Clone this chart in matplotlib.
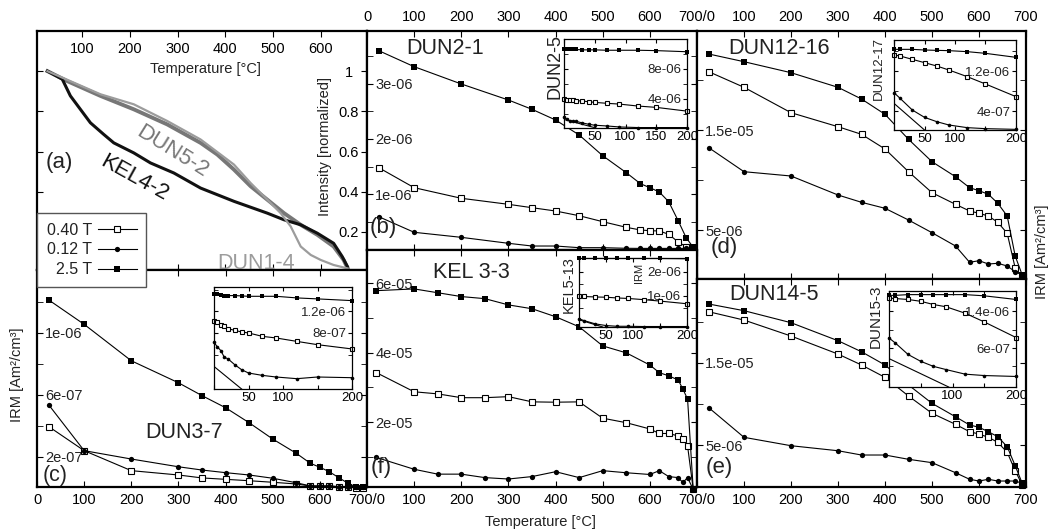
import matplotlib
matplotlib.use('Agg')
import matplotlib.pyplot as plt
from matplotlib.lines import Line2D
from matplotlib.ticker import FixedLocator, FixedFormatter, FuncFormatter

plt.rcParams['font.family'] = ['Liberation Sans', 'DejaVu Sans']
plt.rcParams['text.color'] = '#222222'

# ---- panel (a): normalized thermomagnetic curves
a_kel_T = [27, 58, 75, 96, 117, 145, 166, 208, 243, 292, 348, 418, 488, 523, 558, 593, 627, 645, 656]
a_kel = [1.0, 0.96, 0.877, 0.81, 0.743, 0.685, 0.643, 0.593, 0.543, 0.493, 0.418, 0.352,
         0.293, 0.26, 0.235, 0.193, 0.143, 0.077, 0.027]
a_dun5_T = [27, 69, 138, 208, 278, 348, 383, 418, 453, 488, 523, 558, 593, 627, 648, 656]
a_dun5 = [1.0, 0.95, 0.877, 0.81, 0.735, 0.643, 0.585, 0.51, 0.427, 0.36, 0.293, 0.235,
          0.185, 0.127, 0.06, 0.02]
a_dun1_T = [27, 138, 208, 278, 348, 418, 453, 488, 516, 537, 558, 579, 600, 627, 656]
a_dun1 = [1.0, 0.885, 0.835, 0.752, 0.66, 0.535, 0.443, 0.36, 0.293, 0.227, 0.127, 0.085,
          0.06, 0.035, 0.018]

# ---- thermal demag of 3-axis IRM (2.5 T, 0.40 T, 0.12 T)
T16 = [25, 100, 200, 300, 350, 400, 450, 500, 550, 580, 600, 620, 640, 660, 677, 692]
T18 = [20, 100, 150, 200, 250, 300, 350, 400, 450, 500, 550, 600, 620, 640, 660, 670, 680, 692]

b_25 = [3.595, 3.306, 2.993, 2.703, 2.535, 2.342, 2.071, 1.696, 1.389, 1.19, 1.118, 1.04, 0.864, 0.521, 0.213, 0.04]
b_040 = [1.479, 1.118, 0.926, 0.817, 0.756, 0.696, 0.611, 0.503, 0.401, 0.353, 0.34, 0.335, 0.275, 0.136, 0.05, 0.03]
b_012 = [0.593, 0.311, 0.22, 0.112, 0.063, 0.063, 0.033, 0.033, 0.022, 0.02, 0.02, 0.02, 0.02, 0.02, 0.02, 0.02]

d_25 = [22.6, 21.83, 20.73, 19.27, 18.1, 16.57, 14.07, 11.83, 10.33, 9.23, 8.93, 8.57, 7.67, 6.4, 2.4, 0.5]
d_040 = [20.83, 19.27, 16.73, 15.33, 14.57, 13.1, 10.83, 8.73, 7.57, 6.9, 6.67, 6.4, 5.77, 4.67, 1.2, 0.3]
d_012 = [13.23, 10.83, 10.4, 8.5, 7.77, 7.17, 6.0, 4.73, 3.4, 1.77, 1.93, 1.6, 1.67, 1.4, 0.83, 0.5]

c_25 = [12.11, 10.54, 8.19, 6.77, 5.94, 5.16, 4.19, 3.14, 2.22, 1.57, 1.32, 1.03, 0.65, 0.28, 0.05, 0.02]
c_040 = [3.94, 2.39, 1.1, 0.82, 0.63, 0.54, 0.45, 0.35, 0.24, 0.11, 0.11, 0.11, 0.06, 0.03, 0.0, 0.0]
c_012 = [5.34, 2.39, 1.85, 1.35, 1.14, 0.97, 0.82, 0.61, 0.32, 0.11, 0.11, 0.11, 0.06, 0.06, 0.04, 0.04]

f_25 = [5.78, 5.83, 5.72, 5.61, 5.55, 5.37, 5.26, 5.03, 4.74, 4.19, 3.99, 3.64, 3.42, 3.33, 3.21, 2.95, 2.66, 0.06]
f_040 = [3.42, 2.87, 2.81, 2.70, 2.70, 2.73, 2.58, 2.57, 2.58, 2.11, 1.98, 1.80, 1.67, 1.67, 1.60, 1.50, 1.31, 0.06]
f_012 = [0.98, 0.64, 0.50, 0.50, 0.40, 0.36, 0.43, 0.57, 0.40, 0.60, 0.54, 0.49, 0.60, 0.43, 0.40, 0.26, 0.40, 0.06]

e_25 = [22.14, 21.33, 19.87, 17.68, 16.34, 14.73, 12.30, 10.07, 8.44, 7.44, 7.16, 6.62, 6.01, 4.80, 2.49, 0.35]
e_040 = [21.2, 20.19, 18.25, 16.06, 14.73, 13.23, 10.96, 8.86, 7.52, 6.62, 6.34, 5.94, 5.33, 4.12, 1.88, 0.15]
e_012 = [9.54, 5.94, 4.92, 4.31, 3.79, 3.79, 3.27, 2.86, 1.64, 0.84, 0.63, 0.84, 0.63, 0.63, 0.63, 0.35]

# ---- insets (AF steps, mT)
AF13 = [0, 5, 10, 15, 20, 30, 40, 50, 70, 90, 120, 150, 200]
AF9 = [0, 10, 30, 50, 70, 90, 120, 150, 200]

bi_25 = [10.6, 10.6, 10.6, 10.6, 10.6, 10.55, 10.55, 10.55, 10.5, 10.5, 10.5, 10.45, 10.3]
bi_040 = [3.96, 3.86, 3.86, 3.86, 3.77, 3.73, 3.63, 3.55, 3.42, 3.32, 3.06, 2.88, 2.38]
bi_012 = [1.62, 1.27, 1.08, 1.04, 1.0, 0.81, 0.63, 0.50, 0.40, 0.27, 0.19, 0.19, 0.19]
bi_edge = ([0, 52], [1.27, 0.13])

di_25 = [1.633, 1.633, 1.633, 1.62, 1.613, 1.607, 1.587, 1.553, 1.473]
di_040 = [1.52, 1.5, 1.433, 1.367, 1.3, 1.22, 1.087, 0.94, 0.687]
di_012 = [0.767, 0.653, 0.42, 0.273, 0.187, 0.12, 0.067, 0.047, 0.033]
di_edge = ([0, 50], [0.553, 0.02])

ci_25 = [1.528, 1.522, 1.496, 1.491, 1.491, 1.491, 1.485, 1.478, 1.478, 1.478, 1.448, 1.43, 1.398]
ci_040 = [1.028, 1.004, 0.941, 0.922, 0.880, 0.848, 0.818, 0.8, 0.737, 0.707, 0.644, 0.583, 0.504]
ci_012 = [0.626, 0.541, 0.472, 0.348, 0.324, 0.213, 0.12, 0.059, 0.015, -0.015, -0.046, -0.015, -0.028]
ci_edge = ([0, 40], [0.18, -0.237])

fi_25 = [2.54, 2.54, 2.54, 2.54, 2.54, 2.54, 2.54, 2.54, 2.53]
fi_040 = [0.97, 0.97, 0.95, 0.94, 0.91, 0.89, 0.84, 0.78, 0.67]
fi_012 = [0.05, -0.03, -0.16, -0.23, -0.26, -0.26, -0.27, -0.27, -0.27]
fi_edge = ([0, 44], [0.01, -0.29])

ei_25 = [1.75, 1.75, 1.766, 1.766, 1.766, 1.766, 1.766, 1.74, 1.66]
ei_040 = [1.69, 1.68, 1.66, 1.62, 1.55, 1.50, 1.36, 1.17, 0.83]
ei_012 = [0.82, 0.71, 0.46, 0.31, 0.20, 0.13, 0.03, 0.00, -0.02]
ei_edge = ([0, 94], [0.37, -0.25])

T_TICKS = [0, 100, 200, 300, 400, 500, 600, 700]
field_labels = ['0.40 T', '0.12 T', '2.5 T']

W, H = 1054, 531
fig = plt.figure(figsize=(W / 100, H / 100), dpi=100)


def px_box(x0, y0, x1, y1):
    return [x0 / W, 1 - y1 / H, (x1 - x0) / W, (y1 - y0) / H]


def ftext(ax, x, y, s, **kw):
    ax.text(x / W, 1 - y / H, s, transform=fig.transFigure, **kw)


def scale(vals, k):
    return [v * k for v in vals]


def draw_irm(ax, x, y25, y040, y012, big=True):
    lw = 0.8
    s, o, c = (3.8, 4.4, 3.8) if big else (2.6, 3.0, 2.6)
    ax.plot(x, y040, '-s', color='k', lw=lw, ms=o, mfc='white', mec='k', mew=0.8, clip_on=False)
    ax.plot(x, y012, '-o', color='k', lw=lw, ms=c, mew=0, clip_on=False)
    ax.plot(x, y25, '-s', color='k', lw=lw, ms=s, mew=0, clip_on=False)


def style_main(ax, top, xlabs, ylim, ymaj, ymin):
    ax.set_xlim(0, 700)
    ax.set_ylim(*ylim)
    ax.xaxis.set_major_locator(FixedLocator(T_TICKS))
    ax.xaxis.set_major_formatter(FixedFormatter(xlabs))
    ax.tick_params(axis='x', direction='in', length=4, top=True, bottom=True,
                   labeltop=top, labelbottom=not top, labelsize=10.5, pad=5 if top else 4)
    ax.yaxis.set_major_locator(FixedLocator(ymaj))
    ax.yaxis.set_minor_locator(FixedLocator(ymin))
    ax.yaxis.set_major_formatter(FuncFormatter(lambda v, p: '%g' % v))
    ax.tick_params(axis='y', which='both', direction='in', length=4, left=True, right=True,
                   labelsize=10.5, labelcolor='#222222', pad=-6)
    for t in ax.get_yticklabels():
        t.set_ha('left')
    for sp in ax.spines.values():
        sp.set_linewidth(1.6)


def make_inset(box, ylim, ymaj, ymin, xlabs):
    ax = fig.add_axes(px_box(*box))
    ax.set_xlim(0, 200)
    ax.set_ylim(*ylim)
    ax.xaxis.set_major_locator(FixedLocator([0, 50, 100, 150, 200]))
    ax.xaxis.set_major_formatter(FixedFormatter(xlabs))
    ax.tick_params(axis='x', direction='in', length=3, top=True, labelsize=9.5, pad=2)
    ax.yaxis.set_major_locator(FixedLocator(ymaj))
    ax.yaxis.set_minor_locator(FixedLocator(ymin))
    ax.yaxis.set_major_formatter(FuncFormatter(lambda v, p: '%g' % v))
    ax.tick_params(axis='y', which='both', direction='in', length=3, left=True, right=True,
                   labelleft=False, labelright=True, labelsize=9.5, labelcolor='#222222', pad=-4)
    for t in ax.get_yticklabels():
        t.set_ha('right')
    for sp in ax.spines.values():
        sp.set_linewidth(0.9)
    return ax


# ---- main panels
ax_a = fig.add_axes(px_box(37, 31, 367, 270))
ax_b = fig.add_axes(px_box(367, 31, 697, 250))
ax_d = fig.add_axes(px_box(697, 31, 1026, 279))
ax_c = fig.add_axes(px_box(37, 270, 367, 487))
ax_f = fig.add_axes(px_box(367, 250, 697, 487))
ax_e = fig.add_axes(px_box(697, 279, 1026, 487))

# (a)
ax_a.plot(a_dun5_T, a_dun5, color='#777777', lw=2.8)
ax_a.plot(a_kel_T, a_kel, color='#111111', lw=2.2)
ax_a.plot(a_dun1_T, a_dun1, color='#9c9c9c', lw=1.6)
ax_a.set_xlim(5, 697)
ax_a.set_ylim(0.01, 1.2)
ax_a.set_xticks([100, 200, 300, 400, 500, 600])
ax_a.set_yticks([0.2, 0.4, 0.6, 0.8, 1.0])
ax_a.yaxis.set_major_formatter(FuncFormatter(lambda v, p: '%g' % v))
ax_a.tick_params(axis='x', direction='in', length=4, top=True, bottom=True,
                 labeltop=True, labelbottom=False, labelsize=10.5, pad=-13)
ax_a.tick_params(axis='y', direction='in', length=4, left=True, right=True,
                 labelleft=False, labelright=True, labelsize=10.5, pad=-13)
for t in ax_a.get_xticklabels():
    t.set_va('center')
for t in ax_a.get_yticklabels():
    t.set_ha('center')
for sp in ax_a.spines.values():
    sp.set_linewidth(1.6)
ftext(ax_a, 205, 69, 'Temperature [°C]', ha='center', va='center', fontsize=10.5)
ftext(ax_a, 325, 147, 'Intensity [normalized]', ha='center', va='center', rotation=90, fontsize=10.5)
ftext(ax_a, 172, 152, 'DUN5-2', ha='center', va='center', rotation=-32, fontsize=16, color='#777777')
ftext(ax_a, 134, 178, 'KEL4-2', ha='center', va='center', rotation=-29, fontsize=16, color='#111111')
ftext(ax_a, 256, 263, 'DUN1-4', ha='center', va='center', fontsize=15.5, color='#9c9c9c')
ftext(ax_a, 46, 162, '(a)', ha='left', va='center', fontsize=16)

# (b)
draw_irm(ax_b, T16, scale(b_25, 1e-6), scale(b_040, 1e-6), scale(b_012, 1e-6))
style_main(ax_b, True, ['0', '100', '200', '300', '400', '500', '600', '700/0'],
           (-0.009e-6, 3.951e-6), [1e-6, 2e-6, 3e-6], [0.5e-6, 1.5e-6, 2.5e-6, 3.5e-6])
ftext(ax_b, 406, 48, 'DUN2-1', ha='left', va='center', fontsize=15.5)
ftext(ax_b, 370, 227, '(b)', ha='left', va='center', fontsize=16)

# (d)
draw_irm(ax_d, T16, scale(d_25, 1e-6), scale(d_040, 1e-6), scale(d_012, 1e-6))
style_main(ax_d, True, ['', '100', '200', '300', '400', '500', '600', '700'],
           (0.1e-6, 24.9e-6), [5e-6, 15e-6], [10e-6, 20e-6])
ftext(ax_d, 728, 48, 'DUN12-16', ha='left', va='center', fontsize=15.5)
ftext(ax_d, 711, 248, '(d)', ha='left', va='center', fontsize=16)

# (c)
draw_irm(ax_c, T16, scale(c_25, 1e-7), scale(c_040, 1e-7), scale(c_012, 1e-7))
style_main(ax_c, False, ['0', '100', '200', '300', '400', '500', '600', '700/0'],
           (0.0045e-6, 1.4045e-6), [0.2e-6, 0.6e-6, 1.0e-6], [0.4e-6, 0.8e-6, 1.2e-6])
ftext(ax_c, 145, 433, 'DUN3-7', ha='left', va='center', fontsize=15.5)
ftext(ax_c, 43, 476, '(c)', ha='left', va='center', fontsize=15.5)

# (f)
draw_irm(ax_f, T18, scale(f_25, 1e-5), scale(f_040, 1e-5), scale(f_012, 1e-5))
style_main(ax_f, False, ['', '100', '200', '300', '400', '500', '600', '700/0'],
           (0.13e-5, 6.95e-5), [2e-5, 4e-5, 6e-5], [1e-5, 3e-5, 5e-5])
ftext(ax_f, 433, 273, 'KEL 3-3', ha='left', va='center', fontsize=15.5)
ftext(ax_f, 371, 467, '(f)', ha='left', va='center', fontsize=16)

# (e)
draw_irm(ax_e, T16, scale(e_25, 1e-6), scale(e_040, 1e-6), scale(e_012, 1e-6))
style_main(ax_e, False, ['', '100', '200', '300', '400', '500', '600', '700'],
           (-0.097e-6, 25.18e-6), [5e-6, 15e-6], [10e-6, 20e-6])
ftext(ax_e, 729, 295, 'DUN14-5', ha='left', va='center', fontsize=15.5)
ftext(ax_e, 706, 467, '(e)', ha='left', va='center', fontsize=16)

# ---- insets
ib = make_inset((564, 39, 687, 128), (0.13e-6, 12.0e-6), [4e-6, 8e-6], [2e-6, 6e-6, 10e-6],
                ['', '50', '100', '150', '200'])
draw_irm(ib, AF13, scale(bi_25, 1e-6), scale(bi_040, 1e-6), scale(bi_012, 1e-6), big=False)
ib.plot(bi_edge[0], scale(bi_edge[1], 1e-6), color='k', lw=0.8)
ib.text(-0.076, 0.69, 'DUN2-5', transform=ib.transAxes, rotation=90, ha='center', va='center', fontsize=13)

idd = make_inset((894, 40, 1016, 130), (0.02e-6, 1.82e-6), [0.4e-6, 1.2e-6], [0.8e-6, 1.6e-6],
                 ['', '50', '100', '', '200'])
draw_irm(idd, AF9, scale(di_25, 1e-6), scale(di_040, 1e-6), scale(di_012, 1e-6), big=False)
idd.plot(di_edge[0], scale(di_edge[1], 1e-6), color='k', lw=0.8)
idd.text(-0.123, 0.686, 'DUN12-17', transform=idd.transAxes, rotation=90, ha='center', va='center', fontsize=9.5)

ic = make_inset((214, 287, 352, 389), (-0.237e-6, 1.65e-6), [0.8e-6, 1.2e-6], [0.4e-6, 1.6e-6],
                ['', '50', '100', '', '200'])
draw_irm(ic, AF13, scale(ci_25, 1e-6), scale(ci_040, 1e-6), scale(ci_012, 1e-6), big=False)
ic.plot(ci_edge[0], scale(ci_edge[1], 1e-6), color='k', lw=0.8)

i_f = make_inset((579, 258, 687, 327), (-0.29e-6, 2.56e-6), [1e-6, 2e-6], [0.5e-6, 1.5e-6],
                 ['', '50', '100', '', '200'])
draw_irm(i_f, AF9, scale(fi_25, 1e-6), scale(fi_040, 1e-6), scale(fi_012, 1e-6), big=False)
i_f.plot(fi_edge[0], scale(fi_edge[1], 1e-6), color='k', lw=0.8)
i_f.text(-0.093, 0.613, 'KEL5-13', transform=i_f.transAxes, rotation=90, ha='center', va='center', fontsize=10.5)
i_f.text(0.56, 0.78, 'IRM', transform=i_f.transAxes, rotation=90, ha='center', va='center', fontsize=8)

ie = make_inset((889, 291, 1016, 387), (-0.25e-6, 1.845e-6), [0.6e-6, 1.4e-6], [0.2e-6, 1.0e-6],
                ['', '', '100', '', '200'])
draw_irm(ie, AF9, scale(ei_25, 1e-6), scale(ei_040, 1e-6), scale(ei_012, 1e-6), big=False)
ie.plot(ei_edge[0], scale(ei_edge[1], 1e-6), color='k', lw=0.8)
ie.text(-0.102, 0.74, 'DUN15-3', transform=ie.transAxes, rotation=90, ha='center', va='center', fontsize=11)

# ---- shared labels and legend
fig.text(540 / W, 1 - 522 / H, 'Temperature [°C]', ha='center', va='center', fontsize=10.5)
fig.text(17 / W, 1 - 375 / H, 'IRM [Am²/cm³]', ha='center', va='center', rotation=90, fontsize=10.5)
fig.text(1042 / W, 1 - 252 / H, 'IRM [Am²/cm³]', ha='center', va='center', rotation=90, fontsize=10.5)

handles = [
    Line2D([], [], color='k', lw=0.8, marker='s', ms=4.4, mfc='white', mec='k', mew=0.8),
    Line2D([], [], color='k', lw=0.8, marker='o', ms=3.8, mew=0),
    Line2D([], [], color='k', lw=0.8, marker='s', ms=3.8, mew=0),
]
leg = fig.legend(handles, field_labels, loc='upper left', bbox_to_anchor=(37 / W, 1 - 213 / H),
                 markerfirst=False, fancybox=False, framealpha=1, edgecolor='#555555',
                 fontsize=11.5, handlelength=2.4, labelspacing=0.3, borderpad=0.6,
                 handletextpad=0.4, borderaxespad=0)
leg.get_frame().set_linewidth(1.0)

fig.savefig('out.png', dpi=100)
